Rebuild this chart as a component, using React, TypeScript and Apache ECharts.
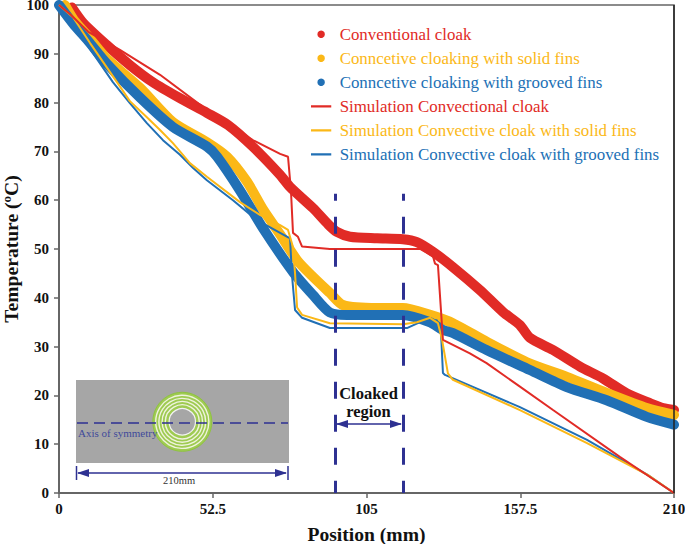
import React, { useEffect, useRef } from "react";
import * as echarts from "echarts";

const FONT = "'Liberation Serif', serif";
const RED = "#e12b26";
const YELLOW = "#fbb817";
const BLUE = "#2170b5";
const NAVY = "#2e3192";

const namesMeasured = ["Conventional cloak", "Conncetive cloaking with solid fins", "Conncetive cloaking with grooved fins"];
const namesSim = ["Simulation Convectional cloak", "Simulation Convective cloak with solid fins", "Simulation Convective cloak with grooved fins"];

const redMeasured = [[4.4,99.5],[8.3,96.3],[16.3,91.8],[24.2,87.7],[32,84.2],[41.3,80.9],[50.5,77.9],[57.7,75.4],[66.3,70.9],[75.5,65.2],[78.9,62.7],[86.7,58.4],[92,55],[94.9,53.5],[99.4,52.5],[108.6,52.2],[117.4,52],[122.2,51.4],[127.7,49.4],[134.5,46.3],[143.7,41.6],[151.6,37.1],[157.4,34.4],[160.8,31.8],[168.7,29.3],[177.9,25.9],[185.7,23.5],[193.9,20.4],[201.8,18.4],[206.2,17.4],[210,17]];
const yellowMeasured = [[2,100],[5,97],[10,93.5],[16.3,89],[27.7,83],[38.9,76],[50.5,71.9],[57.4,68.9],[64.2,63.8],[69.8,58],[75.5,53],[81.3,47.7],[86.7,44.3],[92.5,41],[97,38.5],[108.6,37.9],[117.4,37.9],[126.7,36.5],[134.5,34.8],[146,31],[159.8,26.8],[173.4,23.8],[187,20.5],[200.7,17.4],[210,16]];
const blueMeasured = [[0,100],[4.8,96.2],[10,92.6],[16.3,88],[27.7,81],[38.9,75],[50.5,71],[54,68.9],[61.8,62],[69.6,54.3],[79.9,45.3],[86.7,40.6],[92.5,37],[98.3,36.5],[117.4,36.5],[126.7,35],[131.1,33.4],[134.5,32.8],[146,29.3],[160.8,25.2],[173.4,21.7],[187,19],[200.7,15.6],[210,14]];

const redSim = [[0,100],[4,98],[10,94.5],[20.8,90.8],[34.5,85.7],[50.5,78.5],[58.4,75.4],[66.2,72.3],[75.5,69.5],[78.2,68.9],[79.2,62],[79.9,53.3],[81.6,52.5],[83,50.5],[92.5,50],[123.3,50],[127.7,48.5],[128.4,47],[129.4,46.7],[131.1,31.4],[140.3,28.6],[146,26.6],[157.4,21.8],[168.7,17],[191.5,7.4],[210,0]];
const yellowSim = [[0,100],[4.8,97.5],[10.6,92.2],[19.8,84.2],[24.2,80.3],[30,77],[34.5,74.4],[38.9,71.7],[44.7,67.6],[50.5,64.8],[61.8,59.6],[68.6,57],[75.5,54.9],[78.2,53.9],[79.9,50.4],[80.6,45],[81.3,38],[83,36.5],[92.5,34.8],[117.4,34.6],[122.2,35],[126.7,35.9],[129.4,34.8],[130.8,31.4],[132.8,24.5],[134.5,23.2],[157.4,17],[180.3,10.2],[201,3.7],[210,0]];
const blueSim = [[0,100],[4.8,96],[10.6,91],[18.4,84.2],[24.2,79.9],[30,75.8],[35.5,72.3],[41.3,69.3],[45.8,66.6],[50.5,64.1],[59.4,60],[67.6,55.9],[78.9,52.2],[79.5,45],[80.6,37.5],[83,35.9],[92.5,33.8],[118.8,33.8],[123.3,35],[129,35.4],[130.4,33.4],[131.1,24.6],[131.8,24.2],[157.4,17.6],[180.3,10.9],[201,3.7],[210,0]];

const cloakEdges = [94.2, 117.4];
const cloakTop = 61.3;
const xTickLabels = ["0", "52.5", "105", "157.5", "210"];
const whiteRingRadii = [26.6, 23.4, 20.2, 17];

const LEGEND_LINE = "path://M0 0L0 0ZM0 3.5H27V6.5H0ZM27 10L27 10Z";

const thick = (name: string, data: number[][], color: string) => ({
  name, type: "line", data, showSymbol: false, symbol: "none", z: 2, smooth: 0.25,
  lineStyle: { color, width: 10, cap: "round", join: "round" }, itemStyle: { color },
});
const thin = (name: string, data: number[][], color: string, z: number) => ({
  name, type: "line", data, showSymbol: false, symbol: "none", z,
  lineStyle: { color, width: 2 }, itemStyle: { color },
});

export default function App() {
  const ref = useRef<HTMLDivElement>(null);
  useEffect(() => {
    const chart = echarts.init(ref.current!, undefined, { renderer: "svg" });
    const cx = 182.3, cy = 421.8;
    const ringEls: any[] = [
      { type: "circle", z: 10, shape: { cx, cy, r: 29.5 }, style: { fill: "#9fcb52", stroke: "#8fc43f", lineWidth: 1 } },
      ...whiteRingRadii.map((r) => ({ type: "circle", z: 11, shape: { cx, cy, r },
        style: { fill: "none", stroke: "#eff3dd", lineWidth: 1.4 } })),
      { type: "circle", z: 12, shape: { cx, cy, r: 13.2 }, style: { fill: "#a6a6a6", stroke: "#f2f2f2", lineWidth: 1.2 } },
    ];
    const arrow = (x: number, y: number, dir: number, z = 30) => ({
      type: "polygon", z, shape: { points: [[x, y], [x + dir * 12, y - 4], [x + dir * 12, y + 4]] },
      style: { fill: NAVY },
    });
    const vline = (x: number, y1: number, y2: number) => ({
      type: "line", z: 30, shape: { x1: x, y1, x2: x, y2 }, style: { stroke: NAVY, lineWidth: 1.5 },
    });
    chart.setOption({
      animation: false,
      backgroundColor: "#fff",
      textStyle: { fontFamily: FONT },
      grid: { left: 59, right: 11, top: 5, bottom: 51, show: true, borderColor: "#666", borderWidth: 1.5, outerBoundsMode: "none", containLabel: false },
      legend: {
        left: 311, top: 25, padding: 0, orient: "vertical", itemGap: 5.5, itemWidth: 27, itemHeight: 7.5,
        selectedMode: false,
        textStyle: { fontFamily: FONT, fontSize: 16.9, color: "inherit", height: 18.5, lineHeight: 18.5 },
        data: [
          ...namesMeasured.map((name, i) => ({ name, icon: "circle", lineStyle: { opacity: 0 }, textStyle: { color: [RED, YELLOW, BLUE][i] } })),
          ...namesSim.map((name, i) => ({ name, icon: LEGEND_LINE, lineStyle: { opacity: 0 }, textStyle: { color: [RED, YELLOW, BLUE][i] } })),
        ],
      },
      xAxis: {
        type: "value", min: 0, max: 210, interval: 52.5,
        splitLine: { show: false },
        axisLine: { lineStyle: { color: "#666", width: 2 } },
        axisTick: { length: 5, lineStyle: { color: "#666", width: 1.5 } },
        axisLabel: { color: "#111", fontWeight: "bold", fontSize: 15, fontFamily: FONT, margin: 8,
          formatter: (v: number) => xTickLabels[Math.round(v / 52.5)] ?? String(v) },
        name: "Position (mm)", nameLocation: "middle", nameGap: 31, nameMoveOverlap: false,
        nameTextStyle: { color: "#111", fontWeight: "bold", fontSize: 19.6, fontFamily: FONT },
      },
      yAxis: {
        type: "value", min: 0, max: 100, interval: 10,
        splitLine: { show: false },
        axisLine: { show: true, lineStyle: { color: "#666", width: 2 } },
        axisTick: { show: true, length: 5, lineStyle: { color: "#666", width: 1.5 } },
        axisLabel: { color: "#111", fontWeight: "bold", fontSize: 15, fontFamily: FONT, margin: 10 },
        name: "Temperature (ºC)", nameLocation: "middle", nameGap: 38, nameRotate: 90, nameMoveOverlap: false,
        nameTextStyle: { color: "#111", fontWeight: "bold", fontSize: 19.6, fontFamily: FONT },
      },
      series: [
        thick(namesMeasured[0], redMeasured, RED),
        thick(namesMeasured[1], yellowMeasured, YELLOW),
        thick(namesMeasured[2], blueMeasured, BLUE),
        thin(namesSim[2], blueSim, BLUE, 3),
        thin(namesSim[0], redSim, RED, 4),
        thin(namesSim[1], yellowSim, YELLOW, 3),
        {
          type: "line", data: [], z: 5, silent: true,
          markLine: {
            silent: true, symbol: "none", animation: false, label: { show: false },
            lineStyle: { color: NAVY, width: 3, type: [17, 16], dashOffset: 10, opacity: 1 },
            data: cloakEdges.map((x) => [{ coord: [x, cloakTop] }, { coord: [x, 0] }]),
          },
        },
      ],
      graphic: [
        { type: "line", z: 20, shape: { x1: 674, y1: 5, x2: 674, y2: 493 }, style: { stroke: "#222", lineWidth: 1.5 } },
        { type: "rect", z: 8, shape: { x: 76, y: 380, width: 213, height: 83 }, style: { fill: "#a6a6a6" } },
        ...ringEls,
        { type: "line", z: 25, shape: { x1: 77, y1: 423, x2: 288, y2: 423 }, style: { stroke: NAVY, lineWidth: 1.3, lineDash: [11, 6] } },
        { type: "text", z: 25, x: 78, y: 427, style: { text: "Axis of symmetry", fill: "#3f4a9a", fontSize: 11, fontFamily: FONT } },
        vline(76.5, 466, 480), vline(288, 466, 480),
        { type: "line", z: 30, shape: { x1: 78, y1: 473, x2: 286, y2: 473 }, style: { stroke: NAVY, lineWidth: 1.3 } },
        arrow(77, 473, 1), arrow(287, 473, -1),
        { type: "text", z: 30, x: 163, y: 475, style: { text: "210mm", fill: "#333", fontSize: 10.5, fontFamily: FONT } },
        { type: "text", z: 30, x: 368.5, y: 402, style: { text: "Cloaked\nregion", fill: "#111", fontSize: 16.5, lineHeight: 18, fontWeight: "bold", fontFamily: FONT, align: "center", verticalAlign: "middle" } },
        { type: "line", z: 30, shape: { x1: 337, y1: 424, x2: 401, y2: 424 }, style: { stroke: NAVY, lineWidth: 1.5 } },
        arrow(336, 424, 1), arrow(402, 424, -1),
      ],
    });
    return () => chart.dispose();
  }, []);
  return <div ref={ref} style={{ position: "absolute", left: 0, top: 0, width: 685, height: 544 }} />;
}
